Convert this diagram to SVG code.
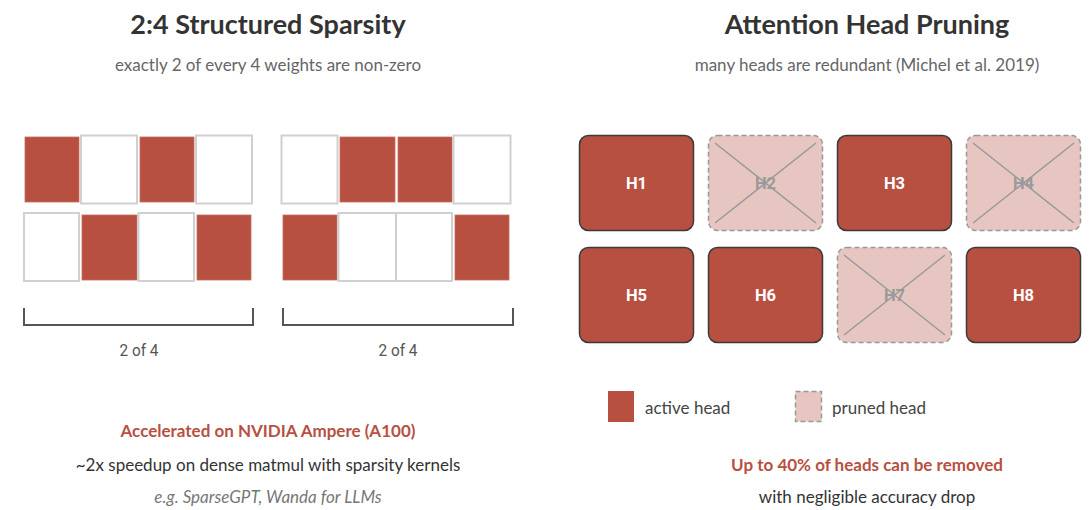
<svg xmlns="http://www.w3.org/2000/svg" width="1092" height="510" viewBox="0 0 1092 510">
<style>
.title{font-family:Lato,"Liberation Sans",sans-serif;font-weight:bold;font-size:27px;fill:#333;text-anchor:middle}
.sub{font-family:Lato,"Liberation Sans",sans-serif;font-size:17px;fill:#666;text-anchor:middle}
.on{fill:#B85042;stroke:#C86A5E;stroke-width:0.8}
.off{fill:#fff;stroke:#d0d0d0;stroke-width:2}
.br{fill:none;stroke:#555;stroke-width:2}
.cap{font-family:Roboto,"Liberation Sans",sans-serif;font-size:16.5px;fill:#555;text-anchor:middle}
.act{fill:#B85042;stroke:#3a3a3a;stroke-width:1.5}
.prn{fill:#E7C6C2;stroke:#999;stroke-width:1.5;stroke-dasharray:5 3}
.x{stroke:#999;stroke-width:1.5}
.hl{font-family:Roboto,"Liberation Sans",sans-serif;font-weight:bold;font-size:16.5px;fill:#fff;text-anchor:middle}
.hp{font-family:Roboto,"Liberation Sans",sans-serif;font-weight:bold;font-size:16.5px;fill:#9a9a9a;text-anchor:middle}
.red{font-family:Lato,"Liberation Sans",sans-serif;font-weight:bold;font-size:17px;fill:#B85042;text-anchor:middle}
.body{font-family:Lato,"Liberation Sans",sans-serif;font-size:17px;fill:#333;text-anchor:middle}
.it{font-family:Lato,"Liberation Sans",sans-serif;font-style:italic;font-size:17px;fill:#777;text-anchor:middle}
.leg{font-family:Lato,"Liberation Sans",sans-serif;font-size:17px;fill:#444}
</style>
<rect width="1092" height="510" fill="#fff"/>

<g id="sparsity">
<text class="title" x="268" y="34">2:4 Structured Sparsity</text>
<text class="sub" x="268" y="71">exactly 2 of every 4 weights are non-zero</text>
<g id="block1">
<rect class="on" x="25" y="137" width="54" height="65"/>
<rect class="off" x="81" y="135.5" width="56" height="68"/>
<rect class="on" x="140" y="137" width="54" height="65"/>
<rect class="off" x="196" y="135.5" width="56" height="68"/>
<rect class="off" x="24" y="213" width="55" height="68"/>
<rect class="on" x="82" y="215" width="55" height="65"/>
<rect class="off" x="138.5" y="213" width="55.5" height="68"/>
<rect class="on" x="197" y="215" width="54" height="65"/>
</g>
<g id="block2">
<rect class="off" x="281.5" y="135.5" width="56" height="68"/>
<rect class="on" x="340" y="137" width="55" height="65"/>
<rect class="on" x="398" y="137" width="54" height="65"/>
<rect class="off" x="453.5" y="135.5" width="57" height="68"/>
<rect class="on" x="283" y="215" width="54" height="65"/>
<rect class="off" x="338.5" y="213" width="57.5" height="68"/>
<rect class="off" x="396" y="213" width="56" height="68"/>
<rect class="on" x="455" y="215" width="54" height="65"/>
</g>
<g id="brackets">
<path class="br" d="M24 308 V325 H253 V308"/>
<path class="br" d="M283 308 V325 H513 V308"/>
</g>
<text class="cap" x="139" y="356" textLength="39" lengthAdjust="spacingAndGlyphs">2 of 4</text>
<text class="cap" x="398" y="356" textLength="39" lengthAdjust="spacingAndGlyphs">2 of 4</text>
<text class="red" x="268" y="437">Accelerated on NVIDIA Ampere (A100)</text>
<text class="body" x="268" y="471">~2x speedup on dense matmul with sparsity kernels</text>
<text class="it" x="268" y="503">e.g. SparseGPT, Wanda for LLMs</text>
</g>

<g id="heads">
<text class="title" x="867" y="34">Attention Head Pruning</text>
<text class="sub" x="867" y="71">many heads are redundant (Michel et al. 2019)</text>
<g id="H1"><rect class="act" x="579.5" y="135.5" width="114" height="95" rx="9"/><text class="hl" x="636.5" y="189">H1</text></g>
<g id="H2"><rect class="prn" x="708.5" y="135.5" width="114" height="95" rx="9"/><text class="hp" x="765.5" y="189">H2</text><path class="x" d="M715 143 L816 223 M816 143 L715 223"/></g>
<g id="H3"><rect class="act" x="837.5" y="135.5" width="114" height="95" rx="9"/><text class="hl" x="894.5" y="189">H3</text></g>
<g id="H4"><rect class="prn" x="966.5" y="135.5" width="114" height="95" rx="9"/><text class="hp" x="1023.5" y="189">H4</text><path class="x" d="M973 143 L1074 223 M1074 143 L973 223"/></g>
<g id="H5"><rect class="act" x="579.5" y="247.5" width="114" height="95" rx="9"/><text class="hl" x="636.5" y="301">H5</text></g>
<g id="H6"><rect class="act" x="708.5" y="247.5" width="114" height="95" rx="9"/><text class="hl" x="765.5" y="301">H6</text></g>
<g id="H7"><rect class="prn" x="837.5" y="247.5" width="114" height="95" rx="9"/><text class="hp" x="894.5" y="301">H7</text><path class="x" d="M844 255 L945 335 M945 255 L844 335"/></g>
<g id="H8"><rect class="act" x="966.5" y="247.5" width="114" height="95" rx="9"/><text class="hl" x="1023.5" y="301">H8</text></g>
<g id="legend">
<rect x="608" y="391" width="26" height="31" fill="#B85042"/>
<text class="leg" x="645" y="414">active head</text>
<rect class="prn" x="795.5" y="391.5" width="26" height="30" stroke-dasharray="4 2"/>
<text class="leg" x="832" y="414">pruned head</text>
</g>
<text class="red" x="867" y="471">Up to 40% of heads can be removed</text>
<text class="body" x="867" y="503">with negligible accuracy drop</text>
</g>
</svg>
